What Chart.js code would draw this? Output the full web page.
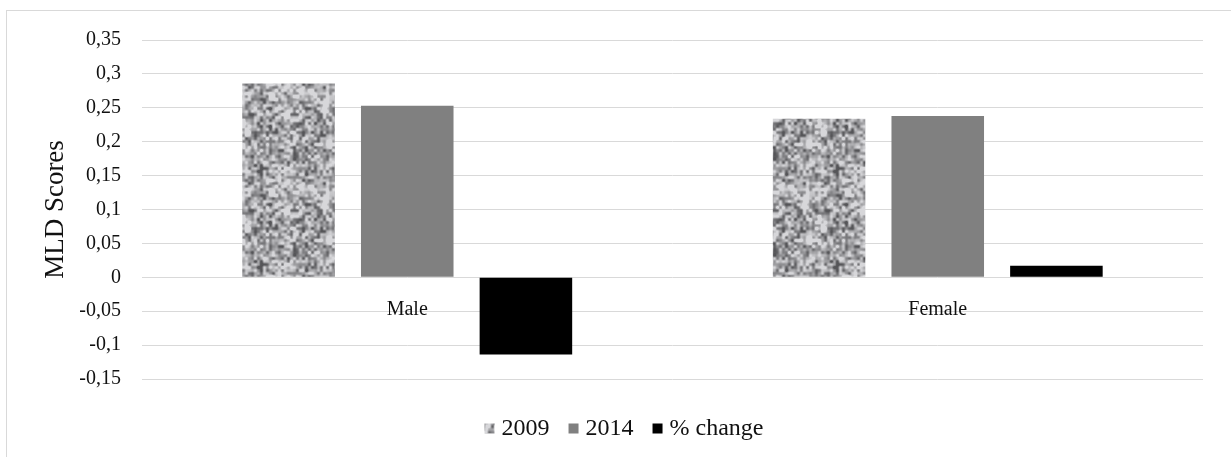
<!DOCTYPE html>
<html>
<head>
<meta charset="utf-8">
<script src="https://cdn.jsdelivr.net/npm/chart.js@4.4.1/dist/chart.umd.min.js"></script>
<style>
  html, body { margin: 0; padding: 0; background: #ffffff; }
  #wrap { position: relative; width: 1231px; height: 457px; }
</style>
</head>
<body>
<div id="wrap"><canvas id="chart" width="1231" height="457"></canvas></div>
<script>
// Categories, series and axis ticks
const categories = ['Male', 'Female'];
const seriesNames = ['2009', '2014', '% change'];
const values2009 = [0.286, 0.234];
const values2014 = [0.253, 0.238];
const valuesChange = [-0.114, 0.017];
const yTickValues = [-0.15, -0.1, -0.05, 0, 0.05, 0.1, 0.15, 0.2, 0.25, 0.3, 0.35];
const yTickLabels = ['-0,15', '-0,1', '-0,05', '0', '0,05', '0,1', '0,15', '0,2', '0,25', '0,3', '0,35'];

const SERIF = "'Liberation Serif', 'Times New Roman', serif";
const TEXT = '#111111';
const GRID = '#d9d9d9';

// Mottled grey fill for the 2009 bars: tileable value noise built from an integer hash
function hash2(x, y) {
  let h = (x * 374761393 + y * 668265263) | 0;
  h = Math.imul(h ^ (h >>> 13), 1274126177);
  h = h ^ (h >>> 16);
  return (h >>> 0) / 4294967295;
}
function valueNoise(px, py, cell, period, seed) {
  const gx = px / cell, gy = py / cell;
  const x0 = Math.floor(gx), y0 = Math.floor(gy);
  const fx = gx - x0, fy = gy - y0;
  const sx = fx * fx * (3 - 2 * fx), sy = fy * fy * (3 - 2 * fy);
  const n = (i, j) => hash2(((i % period) + period) % period + seed * 131, ((j % period) + period) % period + seed * 977);
  const a = n(x0, y0), b = n(x0 + 1, y0), c = n(x0, y0 + 1), d = n(x0 + 1, y0 + 1);
  const top = a + (b - a) * sx, bottom = c + (d - c) * sx;
  return top + (bottom - top) * sy;
}
function makeSpeckle() {
  const size = 96;
  const cv = document.createElement('canvas');
  cv.width = size; cv.height = size;
  const c = cv.getContext('2d');
  const img = c.createImageData(size, size);
  for (let y = 0; y < size; y++) {
    for (let x = 0; x < size; x++) {
      const n = 0.60 * valueNoise(x, y, 3, 32, 1) +
                0.25 * valueNoise(x, y, 6, 16, 2) +
                0.15 * valueNoise(x, y, 12, 8, 3);
      let g = 170 + (n - 0.5) * 250;
      g = Math.max(85, Math.min(215, g));
      const i = (y * size + x) * 4;
      img.data[i] = g; img.data[i + 1] = g; img.data[i + 2] = g + 3; img.data[i + 3] = 255;
    }
  }
  c.putImageData(img, 0, 0);
  return c.createPattern(cv, 'repeat');
}
const speckle = makeSpeckle();

// Light frame around the whole figure
const framePlugin = {
  id: 'frame',
  beforeDraw(chart) {
    const ctx = chart.ctx;
    ctx.save();
    ctx.strokeStyle = GRID;
    ctx.lineWidth = 1;
    ctx.strokeRect(6.5, 10.5, 1400, 600);
    ctx.restore();
  }
};

// Legend row under the plot, drawn from the dataset labels and fills
const legendRow = {
  id: 'legendRow',
  afterDraw(chart, args, opts) {
    const ctx = chart.ctx;
    const ds = chart.data.datasets;
    ctx.save();
    ctx.font = opts.fontSize + 'px ' + SERIF;
    ctx.textBaseline = 'middle';
    ctx.textAlign = 'left';
    const widths = ds.map(d => opts.box + opts.boxGap + ctx.measureText(d.label).width);
    const total = widths.reduce((a, b) => a + b, 0) + opts.itemGap * (ds.length - 1);
    let x = opts.centerX - total / 2;
    ds.forEach((d, i) => {
      ctx.fillStyle = d.backgroundColor;
      ctx.fillRect(x, opts.centerY - opts.box / 2 + 0.5, opts.box, opts.box);
      ctx.fillStyle = TEXT;
      ctx.fillText(d.label, x + opts.box + opts.boxGap, opts.centerY + 1);
      x += widths[i] + opts.itemGap;
    });
    ctx.restore();
  }
};

new Chart(document.getElementById('chart'), {
  type: 'bar',
  data: {
    labels: categories,
    datasets: [
      { label: seriesNames[0], data: values2009, backgroundColor: speckle },
      { label: seriesNames[1], data: values2014, backgroundColor: '#808080' },
      { label: seriesNames[2], data: valuesChange, backgroundColor: '#000000' }
    ]
  },
  options: {
    responsive: false,
    animation: false,
    devicePixelRatio: 1,
    layout: { padding: { left: 0, right: 28, top: 40, bottom: 78 } },
    datasets: { bar: { categoryPercentage: 0.671, barPercentage: 0.78 } },
    scales: {
      x: {
        position: { y: 0 },
        grid: { display: false, drawTicks: false },
        border: { display: false },
        ticks: { color: TEXT, padding: 20, font: { family: SERIF, size: 20 } }
      },
      y: {
        min: -0.15,
        max: 0.35,
        afterBuildTicks(scale) { scale.ticks = yTickValues.map(v => ({ value: v })); },
        afterFit(scale) { scale.width = 142; },
        grid: { color: GRID, lineWidth: 1, drawTicks: false },
        border: { display: false },
        ticks: {
          color: TEXT,
          padding: 21,
          font: { family: SERIF, size: 20 },
          callback(value, index) { return yTickLabels[index]; }
        },
        title: {
          display: true,
          text: 'MLD Scores',
          color: TEXT,
          font: { family: SERIF, size: 27 },
          padding: { top: 40, bottom: 0 }
        }
      }
    },
    plugins: {
      legend: { display: false },
      tooltip: { enabled: false },
      legendRow: { centerX: 624, centerY: 428, box: 10, boxGap: 7, itemGap: 19, fontSize: 24 }
    }
  },
  plugins: [framePlugin, legendRow]
});
</script>
</body>
</html>
